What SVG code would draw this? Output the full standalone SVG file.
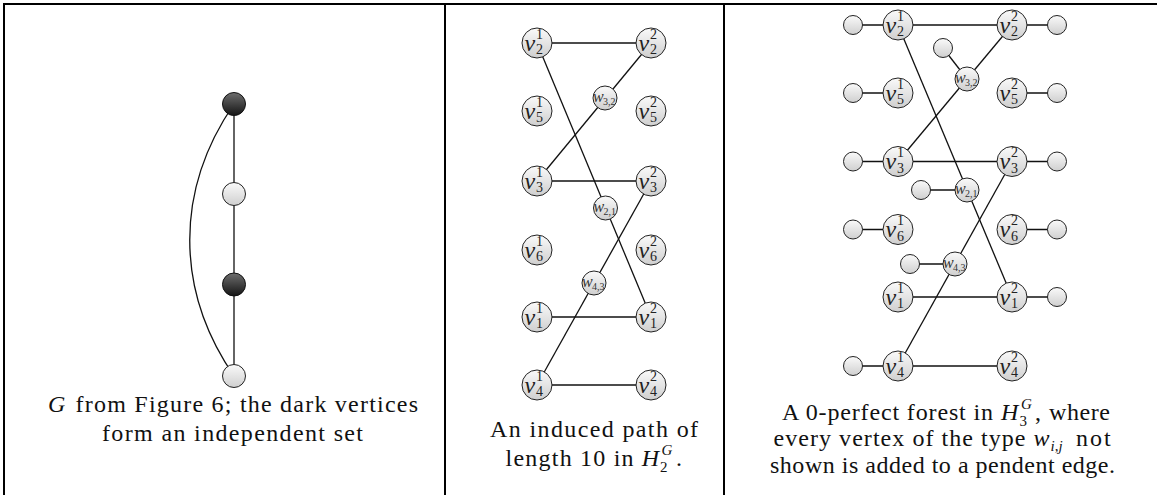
<svg xmlns="http://www.w3.org/2000/svg" width="1161" height="495" viewBox="0 0 1161 495">
<defs>
<linearGradient id="gl" x1="0" y1="0" x2="0" y2="1"><stop offset="0" stop-color="#fafafa"/><stop offset="1" stop-color="#cfcfcf"/></linearGradient>
<linearGradient id="gd" x1="0" y1="0" x2="0" y2="1"><stop offset="0" stop-color="#6e6e6e"/><stop offset="1" stop-color="#141414"/></linearGradient>
<style>
.frame{stroke:#000;stroke-width:2;fill:none}
.e{stroke:#111;stroke-width:1.3;fill:none}
.nd{fill:url(#gl);stroke:#222;stroke-width:1}
.dk{fill:url(#gd);stroke:#111;stroke-width:1}
text{font-family:"Liberation Serif","Times New Roman",serif}
.lv{font-style:italic;font-size:24px;fill:#222}
.ls{font-size:14px;fill:#222}
.lw{font-style:italic;font-size:16px;fill:#333}
.lws{font-size:10px;fill:#333}
.cap{font-size:24px;fill:#111}
.mi{font-style:italic}
.sc{font-size:15px}
</style>
</defs>
<rect width="1161" height="495" fill="#fff"/>
<g id="frame">
<line class="frame" x1="3" y1="4" x2="1157" y2="4"/>
<line class="frame" x1="4" y1="3" x2="4" y2="495"/>
<line class="frame" x1="445" y1="4" x2="445" y2="495"/>
<line class="frame" x1="724" y1="4" x2="724" y2="495"/>
</g>

<!-- Left panel -->
<g id="left-edges">
<line class="e" x1="234" y1="104" x2="234" y2="376"/>
<path class="e" d="M234,104 C175,190 175,290 234,376"/>
</g>
<g id="g1"><circle class="dk" cx="234" cy="104" r="11.5"/></g>
<g id="g2"><circle class="nd" cx="234" cy="194" r="11.5"/></g>
<g id="g3"><circle class="dk" cx="234" cy="284.5" r="11.5"/></g>
<g id="g4"><circle class="nd" cx="234" cy="376" r="11.5"/></g>
<g id="cap-left">
<text class="cap mi" x="48" y="412">G</text>
<text class="cap" x="75.6" y="412" textLength="342.4" lengthAdjust="spacing">from Figure 6; the dark vertices</text>
<text class="cap" x="102" y="441" textLength="261" lengthAdjust="spacing">form an independent set</text>
</g>

<!-- Middle panel -->
<g id="mid-edges">
<line class="e" x1="537" y1="43" x2="651" y2="43"/>
<line class="e" x1="537" y1="181" x2="651" y2="181"/>
<line class="e" x1="537" y1="317" x2="651" y2="317"/>
<line class="e" x1="537" y1="385" x2="651" y2="385"/>
<line class="e" x1="651" y1="43" x2="537" y2="181"/>
<line class="e" x1="537" y1="43" x2="651" y2="317"/>
<line class="e" x1="651" y1="181" x2="537" y2="385"/>
</g>
<g id="m-v2-1" transform="translate(537,43)"><circle class="nd" r="15"/><text class="lv" x="-12.5" y="7.5">v</text><text class="ls" x="-1" y="-4.5">1</text><text class="ls" x="-1" y="11">2</text></g>
<g id="m-v2-2" transform="translate(651,43)"><circle class="nd" r="15"/><text class="lv" x="-12.5" y="7.5">v</text><text class="ls" x="-1" y="-4.5">2</text><text class="ls" x="-1" y="11">2</text></g>
<g id="m-v5-1" transform="translate(537,111)"><circle class="nd" r="15"/><text class="lv" x="-12.5" y="7.5">v</text><text class="ls" x="-1" y="-4.5">1</text><text class="ls" x="-1" y="11">5</text></g>
<g id="m-v5-2" transform="translate(651,111)"><circle class="nd" r="15"/><text class="lv" x="-12.5" y="7.5">v</text><text class="ls" x="-1" y="-4.5">2</text><text class="ls" x="-1" y="11">5</text></g>
<g id="m-v3-1" transform="translate(537,181)"><circle class="nd" r="15"/><text class="lv" x="-12.5" y="7.5">v</text><text class="ls" x="-1" y="-4.5">1</text><text class="ls" x="-1" y="11">3</text></g>
<g id="m-v3-2" transform="translate(651,181)"><circle class="nd" r="15"/><text class="lv" x="-12.5" y="7.5">v</text><text class="ls" x="-1" y="-4.5">2</text><text class="ls" x="-1" y="11">3</text></g>
<g id="m-v6-1" transform="translate(537,250)"><circle class="nd" r="15"/><text class="lv" x="-12.5" y="7.5">v</text><text class="ls" x="-1" y="-4.5">1</text><text class="ls" x="-1" y="11">6</text></g>
<g id="m-v6-2" transform="translate(651,250)"><circle class="nd" r="15"/><text class="lv" x="-12.5" y="7.5">v</text><text class="ls" x="-1" y="-4.5">2</text><text class="ls" x="-1" y="11">6</text></g>
<g id="m-v1-1" transform="translate(537,317)"><circle class="nd" r="15"/><text class="lv" x="-12.5" y="7.5">v</text><text class="ls" x="-1" y="-4.5">1</text><text class="ls" x="-1" y="11">1</text></g>
<g id="m-v1-2" transform="translate(651,317)"><circle class="nd" r="15"/><text class="lv" x="-12.5" y="7.5">v</text><text class="ls" x="-1" y="-4.5">2</text><text class="ls" x="-1" y="11">1</text></g>
<g id="m-v4-1" transform="translate(537,385)"><circle class="nd" r="15"/><text class="lv" x="-12.5" y="7.5">v</text><text class="ls" x="-1" y="-4.5">1</text><text class="ls" x="-1" y="11">4</text></g>
<g id="m-v4-2" transform="translate(651,385)"><circle class="nd" r="15"/><text class="lv" x="-12.5" y="7.5">v</text><text class="ls" x="-1" y="-4.5">2</text><text class="ls" x="-1" y="11">4</text></g>
<g id="m-w32" transform="translate(605,98)"><circle class="nd" r="12"/><text class="lw" x="-12" y="3.5">w</text><text class="lws" x="-2" y="6.5">3,2</text></g>
<g id="m-w21" transform="translate(605.5,208)"><circle class="nd" r="12"/><text class="lw" x="-12" y="3.5">w</text><text class="lws" x="-2" y="6.5">2,1</text></g>
<g id="m-w43" transform="translate(594,283)"><circle class="nd" r="12"/><text class="lw" x="-12" y="3.5">w</text><text class="lws" x="-2" y="6.5">4,3</text></g>
<g id="cap-mid">
<text class="cap" x="490" y="437" textLength="208" lengthAdjust="spacing">An induced path of</text>
<text class="cap" x="505.6" y="466" textLength="128" lengthAdjust="spacing">length 10 in</text>
<text class="cap mi" x="641.8" y="466">H</text>
<text class="cap sc mi" x="661.5" y="455">G</text>
<text class="cap sc" x="660" y="472">2</text>
<text class="cap" x="676" y="466">.</text>
</g>

<!-- Right panel -->
<g id="right-edges">
<line class="e" x1="853" y1="25" x2="1057" y2="25"/>
<line class="e" x1="853" y1="93" x2="898" y2="93"/>
<line class="e" x1="1012" y1="93" x2="1057" y2="93"/>
<line class="e" x1="853" y1="161.5" x2="1057" y2="161.5"/>
<line class="e" x1="853" y1="229.5" x2="898" y2="229.5"/>
<line class="e" x1="1012" y1="229.5" x2="1057" y2="229.5"/>
<line class="e" x1="898" y1="297" x2="1057" y2="297"/>
<line class="e" x1="853" y1="366" x2="1012" y2="366"/>
<line class="e" x1="1012" y1="25" x2="898" y2="161.5"/>
<line class="e" x1="898" y1="25" x2="1012" y2="297"/>
<line class="e" x1="1012" y1="161.5" x2="898" y2="366"/>
<line class="e" x1="943" y1="48" x2="967" y2="79"/>
<line class="e" x1="921" y1="190" x2="967" y2="190"/>
<line class="e" x1="910" y1="264" x2="955" y2="264"/>
</g>
<g id="r-p-v2-1"><circle class="nd" cx="853" cy="25" r="9.5"/></g>
<g id="r-p-v2-2"><circle class="nd" cx="1057" cy="25" r="9.5"/></g>
<g id="r-p-v5-1"><circle class="nd" cx="853" cy="93" r="9.5"/></g>
<g id="r-p-v5-2"><circle class="nd" cx="1057" cy="93" r="9.5"/></g>
<g id="r-p-v3-1"><circle class="nd" cx="853" cy="161.5" r="9.5"/></g>
<g id="r-p-v3-2"><circle class="nd" cx="1057" cy="161.5" r="9.5"/></g>
<g id="r-p-v6-1"><circle class="nd" cx="853" cy="229.5" r="9.5"/></g>
<g id="r-p-v6-2"><circle class="nd" cx="1057" cy="229.5" r="9.5"/></g>
<g id="r-p-v1-2"><circle class="nd" cx="1057" cy="297" r="9.5"/></g>
<g id="r-p-v4-1"><circle class="nd" cx="853" cy="366" r="9.5"/></g>
<g id="r-p-w32"><circle class="nd" cx="943" cy="48" r="9.5"/></g>
<g id="r-p-w21"><circle class="nd" cx="921" cy="190" r="9.5"/></g>
<g id="r-p-w43"><circle class="nd" cx="910" cy="264" r="9.5"/></g>
<g id="r-v2-1" transform="translate(898,25)"><circle class="nd" r="15"/><text class="lv" x="-12.5" y="7.5">v</text><text class="ls" x="-1" y="-4.5">1</text><text class="ls" x="-1" y="11">2</text></g>
<g id="r-v2-2" transform="translate(1012,25)"><circle class="nd" r="15"/><text class="lv" x="-12.5" y="7.5">v</text><text class="ls" x="-1" y="-4.5">2</text><text class="ls" x="-1" y="11">2</text></g>
<g id="r-v5-1" transform="translate(898,93)"><circle class="nd" r="15"/><text class="lv" x="-12.5" y="7.5">v</text><text class="ls" x="-1" y="-4.5">1</text><text class="ls" x="-1" y="11">5</text></g>
<g id="r-v5-2" transform="translate(1012,93)"><circle class="nd" r="15"/><text class="lv" x="-12.5" y="7.5">v</text><text class="ls" x="-1" y="-4.5">2</text><text class="ls" x="-1" y="11">5</text></g>
<g id="r-v3-1" transform="translate(898,161.5)"><circle class="nd" r="15"/><text class="lv" x="-12.5" y="7.5">v</text><text class="ls" x="-1" y="-4.5">1</text><text class="ls" x="-1" y="11">3</text></g>
<g id="r-v3-2" transform="translate(1012,161.5)"><circle class="nd" r="15"/><text class="lv" x="-12.5" y="7.5">v</text><text class="ls" x="-1" y="-4.5">2</text><text class="ls" x="-1" y="11">3</text></g>
<g id="r-v6-1" transform="translate(898,229.5)"><circle class="nd" r="15"/><text class="lv" x="-12.5" y="7.5">v</text><text class="ls" x="-1" y="-4.5">1</text><text class="ls" x="-1" y="11">6</text></g>
<g id="r-v6-2" transform="translate(1012,229.5)"><circle class="nd" r="15"/><text class="lv" x="-12.5" y="7.5">v</text><text class="ls" x="-1" y="-4.5">2</text><text class="ls" x="-1" y="11">6</text></g>
<g id="r-v1-1" transform="translate(898,297)"><circle class="nd" r="15"/><text class="lv" x="-12.5" y="7.5">v</text><text class="ls" x="-1" y="-4.5">1</text><text class="ls" x="-1" y="11">1</text></g>
<g id="r-v1-2" transform="translate(1012,297)"><circle class="nd" r="15"/><text class="lv" x="-12.5" y="7.5">v</text><text class="ls" x="-1" y="-4.5">2</text><text class="ls" x="-1" y="11">1</text></g>
<g id="r-v4-1" transform="translate(898,366)"><circle class="nd" r="15"/><text class="lv" x="-12.5" y="7.5">v</text><text class="ls" x="-1" y="-4.5">1</text><text class="ls" x="-1" y="11">4</text></g>
<g id="r-v4-2" transform="translate(1012,366)"><circle class="nd" r="15"/><text class="lv" x="-12.5" y="7.5">v</text><text class="ls" x="-1" y="-4.5">2</text><text class="ls" x="-1" y="11">4</text></g>
<g id="r-w32" transform="translate(967,79)"><circle class="nd" r="12"/><text class="lw" x="-12" y="3.5">w</text><text class="lws" x="-2" y="6.5">3,2</text></g>
<g id="r-w21" transform="translate(967,190)"><circle class="nd" r="12"/><text class="lw" x="-12" y="3.5">w</text><text class="lws" x="-2" y="6.5">2,1</text></g>
<g id="r-w43" transform="translate(955,264)"><circle class="nd" r="12"/><text class="lw" x="-12" y="3.5">w</text><text class="lws" x="-2" y="6.5">4,3</text></g>
<g id="cap-right">
<text class="cap" x="782" y="419.5" textLength="211" lengthAdjust="spacing">A 0-perfect forest in</text>
<text class="cap mi" x="1001" y="419.5">H</text>
<text class="cap sc mi" x="1021" y="408.5">G</text>
<text class="cap sc" x="1019.5" y="426">3</text>
<text class="cap" x="1035" y="419.5">,</text>
<text class="cap" x="1049" y="419.5" textLength="61" lengthAdjust="spacing">where</text>
<text class="cap" x="773.5" y="446" textLength="252" lengthAdjust="spacing">every vertex of the type</text>
<text class="cap mi" x="1033.4" y="446">w</text>
<text class="cap sc" x="1050.5" y="450.5"><tspan class="mi">i</tspan>,<tspan class="mi">j</tspan></text>
<text class="cap" x="1076" y="446" textLength="34.7" lengthAdjust="spacing">not</text>
<text class="cap" x="770" y="472.5" textLength="345" lengthAdjust="spacing">shown is added to a pendent edge.</text>
</g>
</svg>
